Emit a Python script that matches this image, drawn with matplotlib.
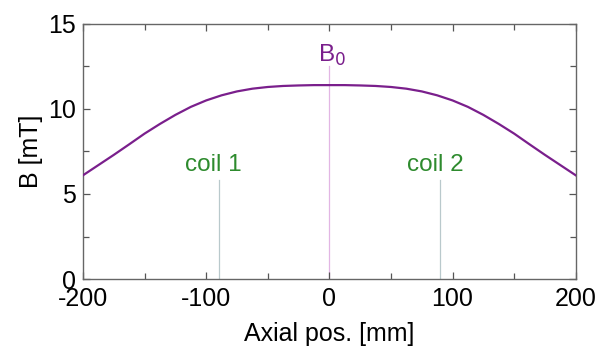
import numpy as np
import matplotlib.pyplot as plt
from matplotlib.ticker import MultipleLocator

plt.rcParams.update({
    "font.family": ["Liberation Sans", "DejaVu Sans"],
    "font.size": 18,
    "axes.unicode_minus": False,
})

# field profile (symmetric around 0)
pos_mm = [-200, -187.5, -175, -162.5, -150, -137.5, -125, -112.5, -100, -87.5,
          -75, -62.5, -50, -37.5, -25, -12.5, 0,
          12.5, 25, 37.5, 50, 62.5, 75, 87.5, 100, 112.5,
          125, 137.5, 150, 162.5, 175, 187.5, 200]
b_mT = [6.1, 6.7, 7.3, 7.92, 8.55, 9.12, 9.65, 10.12, 10.5, 10.8,
        11.03, 11.19, 11.29, 11.35, 11.38, 11.4, 11.4,
        11.4, 11.38, 11.35, 11.29, 11.19, 11.03, 10.8, 10.5, 10.12,
        9.65, 9.12, 8.55, 7.92, 7.3, 6.7, 6.1]

coil_pos = [-90, 90]
coil_top = 5.8
coil_labels = ["coil 1", "coil 2"]
coil_label_x = [-94, 86]
coil_label_y = 6.7
b0_top = 12.5

purple = "#7a1f8c"
green = "#2e8b2e"

fig = plt.figure(figsize=(6.06, 3.51), dpi=100)
ax = fig.add_axes([0.137, 0.205, 0.813, 0.727])

ax.plot(pos_mm, b_mT, color=purple, lw=1.6, zorder=3)

for xc in coil_pos:
    ax.plot([xc, xc], [0, coil_top], color="#b9c9cc", lw=0.9, zorder=1)
ax.plot([0, 0], [0, b0_top], color="#e2b6e4", lw=0.9, zorder=1)

for lx, lab in zip(coil_label_x, coil_labels):
    ax.text(lx, coil_label_y, lab, color=green, fontsize=17.5,
            ha="center", va="center")
ax.text(2, 12.4, r"B$_0$", color=purple, fontsize=17.5, ha="center", va="bottom")

ax.set_xlim(-200, 200)
ax.set_ylim(0, 15)
ax.set_xticks([-200, -100, 0, 100, 200])
ax.set_yticks([0, 5, 10, 15])
ax.xaxis.set_minor_locator(MultipleLocator(50))
ax.yaxis.set_minor_locator(MultipleLocator(2.5))
ax.tick_params(which="both", direction="in", top=True, right=True,
               color="#555555", width=0.9)
ax.tick_params(which="major", length=5)
ax.tick_params(which="minor", length=4)
ax.tick_params(axis="x", pad=6)
ax.tick_params(axis="y", pad=5)
for s in ax.spines.values():
    s.set_color("#666666")
    s.set_linewidth(1.0)

ax.set_xlabel("Axial pos. [mm]", fontsize=18, labelpad=8)
ax.set_ylabel("B [mT]", fontsize=18, labelpad=4)

fig.savefig("out.png", dpi=100)
